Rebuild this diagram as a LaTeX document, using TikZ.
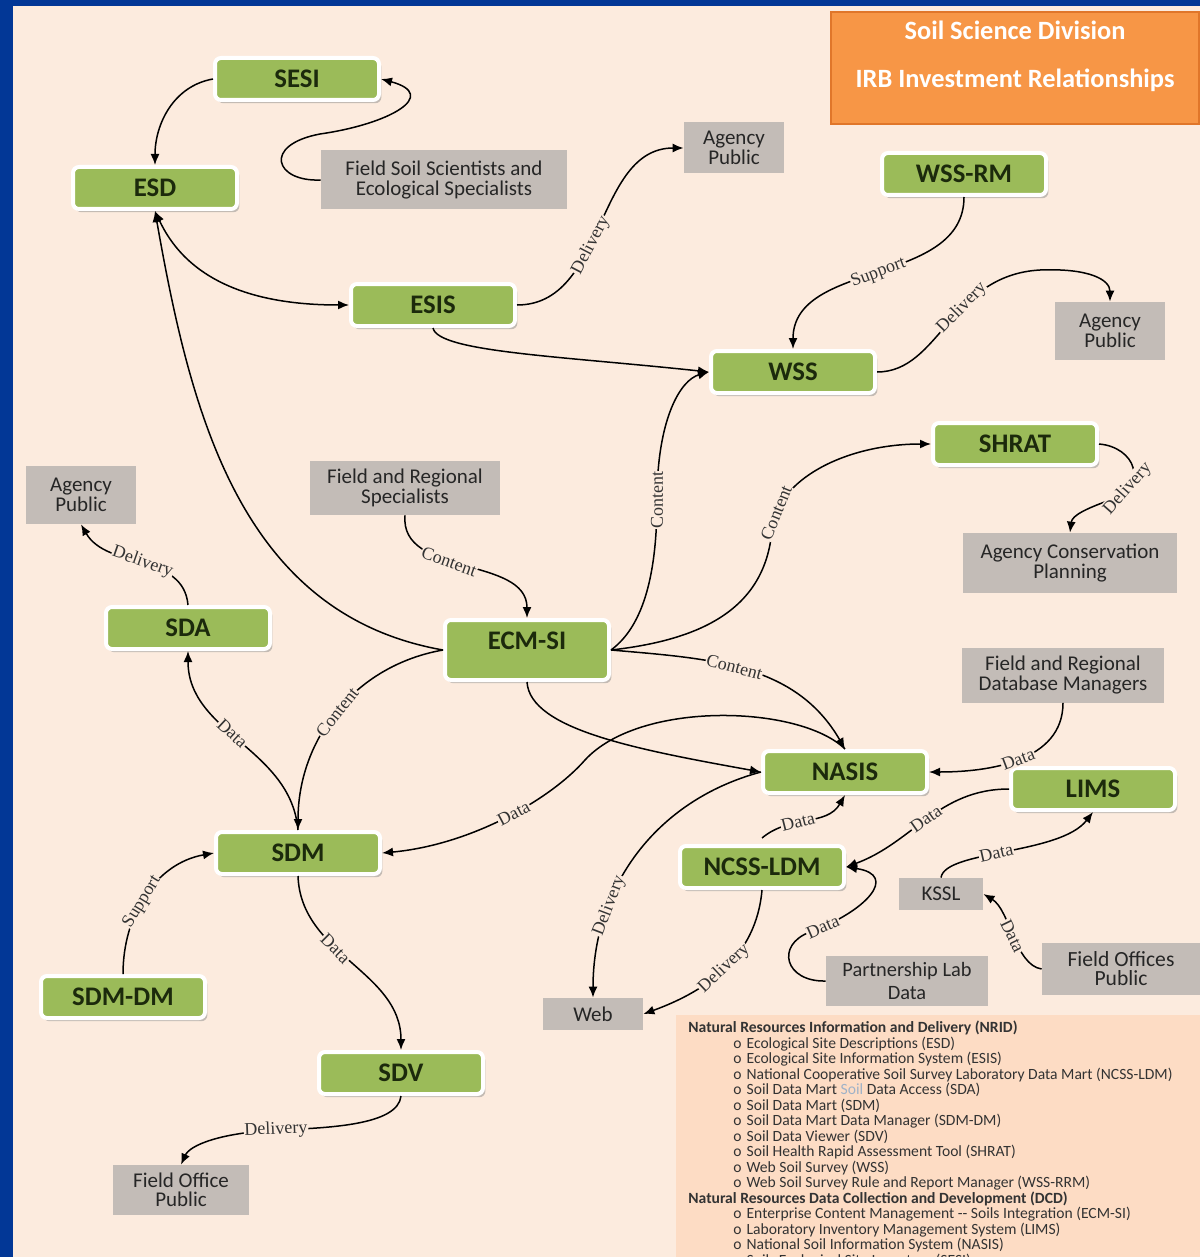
\documentclass[tikz,border=0pt]{standalone}
\usepackage{fontspec}
\setmainfont{Liberation Serif}
\newfontfamily\boxfont{Carlito}
\usepackage{xcolor}
\usetikzlibrary{arrows.meta,shadows}

\definecolor{page}{HTML}{FCEBDE}
\definecolor{frame}{HTML}{023796}
\definecolor{sysgreen}{HTML}{9BBB59}
\definecolor{systext}{HTML}{1C2A0C}
\definecolor{usergray}{HTML}{C3BCB7}
\definecolor{titlefill}{HTML}{F79646}
\definecolor{titleline}{HTML}{E0762A}
\definecolor{legendfill}{HTML}{FDDCC4}

\newcommand{\legitem}{\hspace*{22.5pt}o\hspace{2.5pt}}

\begin{document}
\begin{tikzpicture}[
  x=0.5pt,
  y=-0.5pt,
  sys/.style={draw=white, line width=2pt, rounded corners=3pt, fill=sysgreen, text=systext,
    minimum width=82pt, minimum height=21pt, font=\boxfont\bfseries\fontsize{13.4}{15}\selectfont,
    drop shadow={shadow xshift=1.2pt, shadow yshift=-1.6pt, fill=black!45}},
  user/.style={fill=usergray, text=black!85, align=center, inner sep=1pt,
    font=\boxfont\fontsize{10.5}{9.7}\selectfont},
  arrow/.style={->, >={Latex[length=5.5pt,width=4.5pt]}, line width=0.75pt, color=black},
  lab/.style={font=\fontsize{9}{9}\selectfont, text=black!80, fill=page, inner sep=0.4pt, sloped}
]
  \useasboundingbox (0,0) rectangle (1200,1257);
  \fill[frame] (0,0) rectangle (1200,1257);
  \fill[page] (13,6) rectangle (1200,1257);
  \fill[legendfill] (676,1015) rectangle (1200,1257);

  \node[draw=titleline, line width=1pt, fill=titlefill, minimum width=184pt, minimum height=56pt] (title) at (1015,68) {};
  \node[text=white, align=center, font=\boxfont\bfseries\fontsize{13.2}{24}\selectfont] (titletext) at (1015,56) {Soil Science Division\\IRB Investment Relationships};

  % systems
  \node[sys] (sesi) at (297,79) {SESI};
  \node[sys] (esd) at (155,188) {ESD};
  \node[sys] (esis) at (433,305) {ESIS};
  \node[sys] (wssrm) at (964,174) {WSS-RM};
  \node[sys] (wss) at (793,372) {WSS};
  \node[sys] (shrat) at (1015,444) {SHRAT};
  \node[sys] (sda) at (188,628) {SDA};
  \node[sys, minimum height=30pt, text height=8pt, text depth=9pt] (ecm) at (527,650) {ECM-SI};
  \node[sys] (nasis) at (845,772) {NASIS};
  \node[sys] (lims) at (1093,789) {LIMS};
  \node[sys] (ncss) at (762,867) {NCSS-LDM};
  \node[sys] (sdm) at (298,853) {SDM};
  \node[sys] (sdmdm) at (123,997) {SDM-DM};
  \node[sys] (sdv) at (401,1073) {SDV};

  % people and outlets
  \node[user, minimum width=123pt, minimum height=29.5pt] (fieldsci) at (444,180) {Field Soil Scientists and\\Ecological Specialists};
  \node[user, minimum width=50pt, minimum height=25.5pt] (agencytop) at (734,148) {Agency\\Public};
  \node[user, minimum width=55pt, minimum height=29pt] (agencyright) at (1110,331) {Agency\\Public};
  \node[user, minimum width=55pt, minimum height=29pt] (agencyleft) at (81,495) {Agency\\Public};
  \node[user, minimum width=95pt, minimum height=27pt] (fieldspec) at (405,488) {Field and Regional\\Specialists};
  \node[user, minimum width=107pt, minimum height=30pt] (conservation) at (1070,563) {Agency Conservation\\Planning};
  \node[user, minimum width=101pt, minimum height=27.5pt] (dbmanagers) at (1063,675) {Field and Regional\\Database Managers};
  \node[user, minimum width=42pt, minimum height=16pt] (kssl) at (941,894) {KSSL};
  \node[user, minimum width=81pt, minimum height=25pt, font=\boxfont\fontsize{10.2}{11.5}\selectfont] (partnerlab) at (907,981) {Partnership Lab\\Data};
  \node[user, minimum width=79pt, minimum height=26pt, font=\boxfont\fontsize{10.8}{9.5}\selectfont] (fieldoffices) at (1121,969) {Field Offices\\Public};
  \node[user, minimum width=50pt, minimum height=16pt] (web) at (593,1014) {Web};
  \node[user, minimum width=68pt, minimum height=25pt] (fieldoffice) at (181,1190) {Field Office\\Public};

  % ESD and ESIS
  \draw[arrow] (sesi.west) to[out=190,in=90] (esd.north);
  \draw[arrow] (fieldsci.west) .. controls (275,182) and (262,145) .. (320,134) .. controls (390,124) and (440,95) .. (sesi.east);
  \draw[arrow, <->] (esd.south) to[out=-65,in=180] (esis.west);
  \draw[arrow] (ecm.west) to[out=170,in=-80] (esd.south);
  \draw[arrow] (esis.east) to[out=0,in=180] node[lab, pos=0.42] {Delivery} (agencytop.west);
  \draw[arrow] (esis.south) .. controls (438,352) and (560,356) .. (wss.west);

  % WSS and SHRAT
  \draw[arrow] (wssrm.south) to[out=-90,in=90] node[lab, pos=0.5] {Support} (wss.north);
  \draw[arrow] (wss.east) .. controls (940,372) and (950,275) .. (1040,270) node[lab, pos=0.6] {Delivery} .. controls (1090,268) and (1110,280) .. (agencyright.north);
  \draw[arrow] (ecm.east) .. controls (645,625) and (657,570) .. (657,500) node[lab, pos=1] {Content} .. controls (657,420) and (680,380) .. (wss.west);
  \draw[arrow] (ecm.east) .. controls (700,640) and (765,610) .. (772,530) .. controls (776,480) and (845,444) .. (shrat.west) node[lab, pos=0.12] {Content};
  \draw[arrow] (shrat.east) .. controls (1135,447) and (1150,485) .. (1110,500) node[lab, pos=0.8] {Delivery} .. controls (1088,508) and (1072,515) .. (conservation.north);
  \draw[arrow] (fieldspec.south) to[out=-95,in=90] node[lab, pos=0.42] {Content} (ecm.north);

  % SDA, SDM, SDV
  \draw[arrow] (sda.north) to[out=95,in=-60] node[lab, pos=0.5] {Delivery} (agencyleft.south);
  \draw[arrow] (sdm.north) to[out=95,in=-90] node[lab, pos=0.55] {Data} (sda.south);
  \draw[arrow] (ecm.west) to[out=190,in=90] node[lab, pos=0.5] {Content} (sdm.north);
  \draw[arrow] (sdmdm.north) to[out=90,in=190] node[lab, pos=0.45] {Support} (sdm.west);
  \draw[arrow] (sdm.south) to[out=-88,in=90] node[lab, pos=0.4] {Data} (sdv.north);
  \draw[arrow] (sdv.south) .. controls (398,1125) and (330,1128) .. (276,1130) node[lab, pos=1] {Delivery} .. controls (220,1133) and (190,1145) .. (fieldoffice.north);

  % NASIS and lab data
  \draw[arrow] (ecm.east) to[out=-5,in=120] node[lab, pos=0.45] {Content} (nasis.north);
  \draw[arrow] (ecm.south) .. controls (530,730) and (640,750) .. (nasis.west);
  \draw[arrow] (nasis.north) .. controls (800,705) and (640,700) .. (585,760) .. controls (550,800) and (470,845) .. (sdm.east) node[lab, pos=0.45] {Data};
  \draw[arrow] (nasis.west) to[out=195,in=90] node[lab, pos=0.7] {Delivery} (web.north);
  \draw[arrow] ([yshift=3pt]ncss.north) to[out=40,in=-120] node[lab, pos=0.4] {Data} (nasis.south);
  \draw[arrow] (ncss.south) to[out=-95,in=20] node[lab, pos=0.5] {Delivery} (web.east);
  \draw[arrow] (dbmanagers.south) to[out=-90,in=0] node[lab, pos=0.5] {Data} (nasis.east);
  \draw[arrow] (lims.west) to[out=180,in=20] node[lab, pos=0.5] {Data} (ncss.east);
  \draw[arrow] (partnerlab.west) .. controls (785,982) and (775,945) .. (810,932) .. controls (865,912) and (900,875) .. (ncss.east) node[lab, pos=0.08] {Data};
  \draw[arrow] (kssl.north) .. controls (945,850) and (1060,855) .. (lims.south) node[lab, pos=0.45] {Data};
  \draw[arrow] (fieldoffices.west) .. controls (1015,965) and (1010,910) .. (kssl.east) node[lab, pos=0.5] {Data};

  % legend
  \node[anchor=north west, align=left, inner sep=0pt, text=black!80,
    font=\boxfont\fontsize{7.8}{7.75}\selectfont] (legend) at (688,1021) {%
    \textbf{Natural Resources Information and Delivery (NRID)}\\
    \legitem Ecological Site Descriptions (ESD)\\
    \legitem Ecological Site Information System (ESIS)\\
    \legitem National Cooperative Soil Survey Laboratory Data Mart (NCSS-LDM)\\
    \legitem Soil Data Mart \textcolor[HTML]{9FB2C8}{Soil} Data Access (SDA)\\
    \legitem Soil Data Mart (SDM)\\
    \legitem Soil Data Mart Data Manager (SDM-DM)\\
    \legitem Soil Data Viewer (SDV)\\
    \legitem Soil Health Rapid Assessment Tool (SHRAT)\\
    \legitem Web Soil Survey (WSS)\\
    \legitem Web Soil Survey Rule and Report Manager (WSS-RRM)\\
    \textbf{Natural Resources Data Collection and Development (DCD)}\\
    \legitem Enterprise Content Management -- Soils Integration (ECM-SI)\\
    \legitem Laboratory Inventory Management System (LIMS)\\
    \legitem National Soil Information System (NASIS)\\
    \legitem Soils Ecological Site Inventory (SESI)};
\end{tikzpicture}
\end{document}
